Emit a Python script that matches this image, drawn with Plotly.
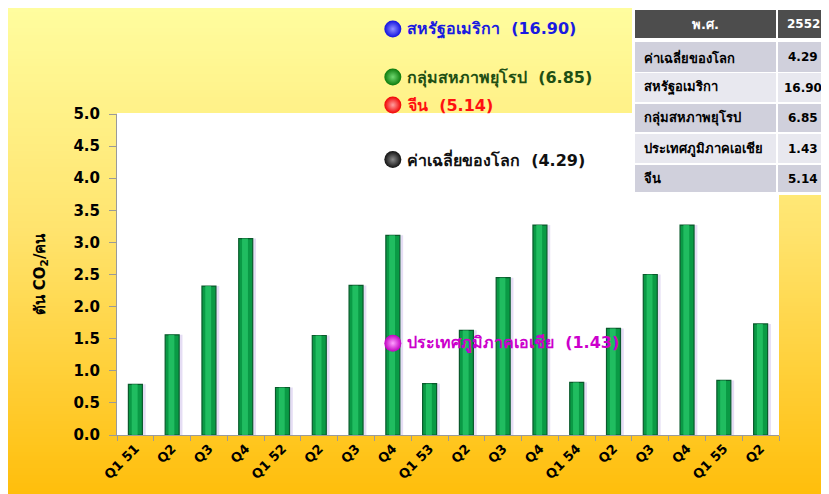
import base64, struct, zlib
import plotly.graph_objects as go

# ---------------- data ----------------
quarters = ["Q1 51", "Q2", "Q3", "Q4", "Q1 52", "Q2", "Q3", "Q4", "Q1 53", "Q2", "Q3", "Q4",
            "Q1 54", "Q2", "Q3", "Q4", "Q1 55", "Q2"]
thai_values = [0.79, 1.56, 2.32, 3.06, 0.74, 1.55, 2.33, 3.11, 0.80, 1.63, 2.45, 3.27,
               0.82, 1.66, 2.50, 3.27, 0.85, 1.73]

ref_names = ["สหรัฐอเมริกา", "กลุ่มสหภาพยุโรป", "จีน", "ค่าเฉลี่ยของโลก", "ประเทศภูมิภาคเอเชีย"]
ref_values = [16.90, 6.85, 5.14, 4.29, 1.43]
ref_colors = ["#1010E0", "#0B7A0B", "#F00000", "#111111", "#C000C0"]
ref_text_colors = ["#1A1AE0", "#1F4F14", "#FF1010", "#111111", "#CC00CC"]
ref_highlights = ["#9090FF", "#70D870", "#FFA0A0", "#8A8A8A", "#FFA0FF"]

table_header = ["พ.ศ.", "2552"]
table_regions = ["ค่าเฉลี่ยของโลก", "สหรัฐอเมริกา", "กลุ่มสหภาพยุโรป", "ประเทศภูมิภาคเอเชีย", "จีน"]
table_values = ["4.29", "16.90", "6.85", "1.43", "5.14"]

y_title = "ตัน CO<sub>2</sub>/คน"

# ---------------- layout geometry (figure pixels) ----------------
W, H = 829, 494
PL, PR, PT, PB = 109, 771, 106, 427     # plot frame
ML, MR, MT, MB = PL, W - PR, 0, H - PB
PW, PH = PR - PL, PB - MT
Y_MAX = 5.0
Y_TOP = Y_MAX * PH / (PB - PT)          # value at the top of the paper (full-height overlay axis)
FONT = "'DejaVu Sans', 'Noto Sans', sans-serif"


def px_x(px):
    return (px - ML) / PW


def px_y(py):
    return (PB - py) / PH


def val_of_py(py):
    return (PB - py) * Y_MAX / (PB - PT)


# key positions (pixels) for references that lie above the axis range
key_py = {0: 21, 1: 69}


# gradient background as a tiny PNG
def gradient_png(n=64):
    top = (255, 253, 158)
    mid = (255, 228, 110)
    bot = (255, 190, 10)
    rows = []
    for i in range(n):
        t = i / (n - 1)
        if t < 0.45:
            u = t / 0.45
            c = [round(top[k] + (mid[k] - top[k]) * u) for k in range(3)]
        else:
            u = (t - 0.45) / 0.55
            c = [round(mid[k] + (bot[k] - mid[k]) * u) for k in range(3)]
        rows.append(b"\x00" + bytes(c) * 2)
    raw = b"".join(rows)

    def chunk(tag, data):
        return struct.pack(">I", len(data)) + tag + data + struct.pack(">I", zlib.crc32(tag + data) & 0xFFFFFFFF)

    png = b"\x89PNG\r\n\x1a\n" + chunk(b"IHDR", struct.pack(">IIBBBBB", 2, n, 8, 2, 0, 0, 0)) \
        + chunk(b"IDAT", zlib.compress(raw)) + chunk(b"IEND", b"")
    return "data:image/png;base64," + base64.b64encode(png).decode()


xs = list(range(len(quarters)))
fig = go.Figure()

# bar shadow
fig.add_trace(go.Bar(x=xs, y=thai_values, width=0.40, offset=-0.12,
                     marker=dict(color="rgba(150,120,210,0.25)", line=dict(width=0)),
                     hoverinfo="skip", showlegend=False))
# bars
fig.add_trace(go.Bar(x=xs, y=thai_values, width=0.38, offset=-0.19,
                     marker=dict(color="#0A9A45", line=dict(color="#0A5A2C", width=1.2)),
                     showlegend=False))
# highlight strip on bars
fig.add_trace(go.Bar(x=xs, y=thai_values, width=0.16, offset=-0.10,
                     marker=dict(color="rgba(40,200,105,0.75)", line=dict(width=0)),
                     hoverinfo="skip", showlegend=False))

marker_x = 7  # category Q4 52
ball_y = [v if v <= Y_MAX * 1.05 else val_of_py(key_py[i]) for i, v in enumerate(ref_values)]

fig.add_trace(go.Scatter(x=[marker_x] * len(ref_values), y=ball_y, xaxis="x2", yaxis="y2",
                         mode="markers", cliponaxis=False,
                         marker=dict(size=17, color=ref_colors,
                                     gradient=dict(type="radial", color=ref_highlights),
                                     line=dict(width=0)), showlegend=False, hoverinfo="skip"))
for i in range(len(ref_values)):
    fig.add_annotation(x=marker_x, y=ball_y[i], xref="x2", yref="y2", xanchor="left", xshift=12,
                       text=f"<b>{ref_names[i]}  ({ref_values[i]:.2f})</b>", showarrow=False,
                       font=dict(size=16, color=ref_text_colors[i], family=FONT))

# ---------------- table (drawn with shapes + annotations) ----------------
col_x = [(627, 768), (770, 820)]
col_font = [13, 12]
row_tops = [2, 34, 65, 96, 126, 157]
row_bots = [30, 64, 94, 124, 155, 184]
row_fill = ["#4D4D4D", "#D0D0DC", "#E8E8EF", "#D0D0DC", "#E8E8EF", "#D0D0DC"]
shapes = [dict(type="rect", xref="paper", yref="paper", x0=0, x1=px_x(PR), y0=0, y1=px_y(PT - 1),
               fillcolor="white", line=dict(width=0), layer="below"),
          dict(type="rect", xref="paper", yref="paper", x0=px_x(624), x1=px_x(822), y0=px_y(187), y1=px_y(-1),
               fillcolor="white", line=dict(width=0), layer="above")]
annotations = []
table_rows = [table_header] + [[r, v] for r, v in zip(table_regions, table_values)]
for r, (row, top, bot) in enumerate(zip(table_rows, row_tops, row_bots)):
    for c, (x0, x1) in enumerate(col_x):
        shapes.append(dict(type="rect", xref="paper", yref="paper", x0=px_x(x0), x1=px_x(x1),
                           y0=px_y(bot), y1=px_y(top), fillcolor=row_fill[r], line=dict(width=0),
                           layer="above"))
        left = (c == 0 and r > 0)
        annotations.append(dict(
            x=px_x(x0 + 7) if left else px_x((x0 + x1) / 2), y=px_y((top + bot) / 2),
            xref="paper", yref="paper", xanchor="left" if left else "center", yanchor="middle",
            text=f"<b>{row[c]}</b>", showarrow=False,
            font=dict(size=col_font[c], family=FONT, color="white" if r == 0 else "black")))

fig.update_layout(
    width=W, height=H,
    margin=dict(l=ML, r=MR, t=MT, b=MB, autoexpand=False),
    paper_bgcolor="white",
    plot_bgcolor="rgba(0,0,0,0)",
    barmode="overlay",
    showlegend=False,
    font=dict(family=FONT, color="black"),
    images=[dict(source=gradient_png(), xref="paper", yref="paper", x=px_x(0), y=px_y(0),
                 sizex=W / PW, sizey=H / PH, xanchor="left", yanchor="top",
                 sizing="stretch", layer="below")],
    shapes=shapes,
    xaxis=dict(domain=[0, 1], range=[-0.5, len(quarters) - 0.5], anchor="y",
               tickmode="array", tickvals=xs, ticktext=[f"<b>{q}</b>" for q in quarters],
               tickangle=-45, tickfont=dict(size=13, color="black"), ticks="", showgrid=False,
               showline=True, linecolor="#9A9A9A", linewidth=1, zeroline=False,
               minor=dict(ticks="outside", tick0=-0.5, dtick=1, ticklen=5, tickcolor="#9A9A9A",
                          showgrid=False)),
    yaxis=dict(domain=[0, px_y(PT)], range=[0, Y_MAX], dtick=0.5, tickformat=".1f", anchor="x",
               tickprefix="<b>", ticksuffix="</b>", ticklabelstandoff=6,
               tickfont=dict(size=15, color="black"), ticks="outside", ticklen=7, tickcolor="#9A9A9A",
               showgrid=False, showline=True, linecolor="#9A9A9A", linewidth=1, zeroline=False,
               title=dict(text=f"<b>{y_title}</b>", font=dict(size=15, color="black"), standoff=24)),
    xaxis2=dict(domain=[0, 1], range=[-0.5, len(quarters) - 0.5], anchor="y2", visible=False),
    yaxis2=dict(domain=[0, 1], range=[0, Y_TOP], anchor="x2", visible=False),
)
for a in annotations:
    fig.add_annotation(**a)

fig.write_html("out.html")
